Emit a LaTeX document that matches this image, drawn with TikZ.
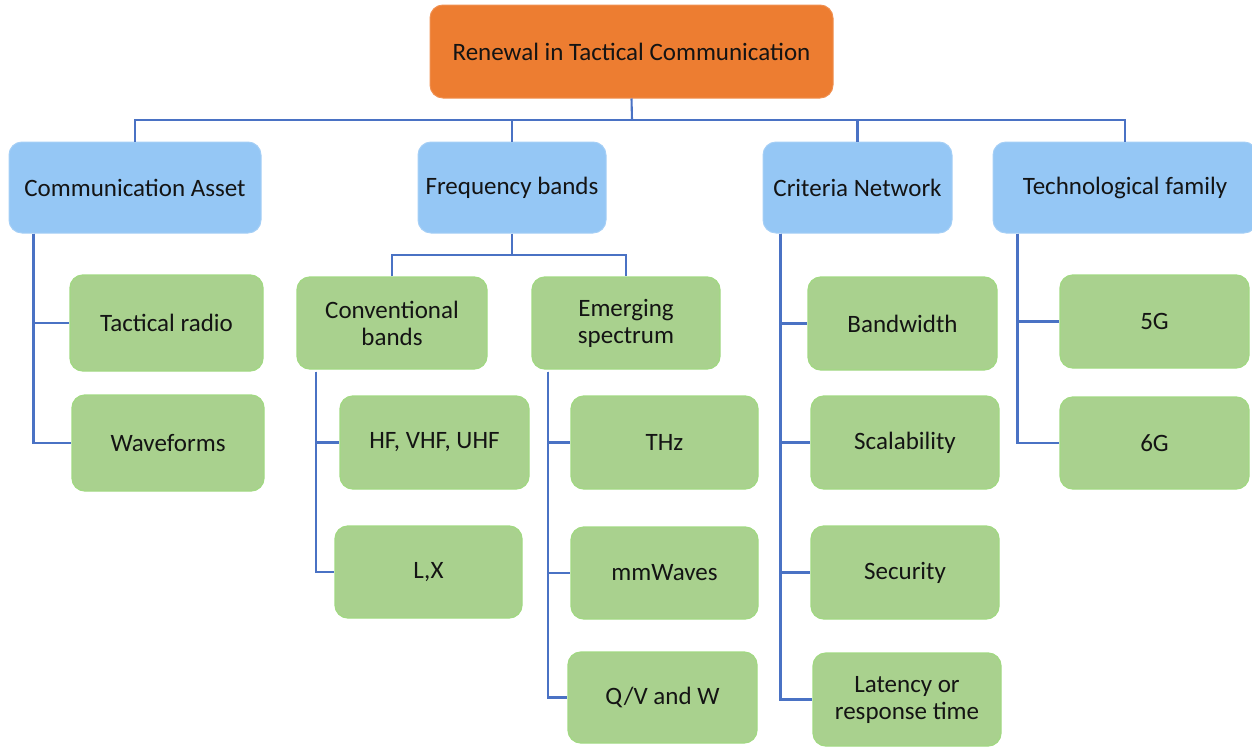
\documentclass[tikz,border=0pt]{standalone}
\usepackage{fontspec}
\setmainfont{Carlito}
\definecolor{rootc}{HTML}{ED7D31}
\definecolor{bluec}{HTML}{95C7F5}
\definecolor{greenc}{HTML}{A9D18E}
\definecolor{greenb}{HTML}{A2D883}
\definecolor{linec}{HTML}{4A72C4}
\definecolor{txt}{HTML}{141414}
\tikzset{
  box/.style={rounded corners=13pt, inner sep=0pt, align=center, text=txt,
    font=\fontsize{25}{27}\selectfont},
  rootbox/.style={box, fill=rootc, draw=rootc!85!white, line width=1pt},
  catbox/.style={box, fill=bluec, draw=bluec!85!white, line width=1pt},
  leafbox/.style={box, fill=greenc, draw=greenb, line width=1.3pt},
  conn/.style={draw=linec, line width=2.1pt},
}
\newcommand{\bx}[6]{% style, name, x1, y1, x2, y2, then text
  \node[#1, minimum width={#5-#3}, minimum height={#6-#4}] (#2) at ({(#3+#5)/2},{(#4+#6)/2})}
\begin{document}
\begin{tikzpicture}[x=1pt,y=-1pt]
\useasboundingbox (0,0) rectangle (1252,747);
\begin{scope}
\clip (0,0) rectangle (1252,747);
% root
\bx{rootbox}{root}{430}{5}{833}{98} {Renewal in Tactical Communication};
% categories
\bx{catbox}{ca}{9}{142}{261}{233} {Communication Asset};
\bx{catbox}{fb}{418}{142}{606}{233} {Frequency bands};
\bx{catbox}{cn}{763}{142}{952}{233} {Criteria Network};
\bx{catbox}{tf}{993}{142}{1257}{233} {Technological family};
% communication asset children
\bx{leafbox}{tr}{70}{275}{263}{371} {Tactical radio};
\bx{leafbox}{wf}{72}{395}{264}{491} {Waveforms};
% frequency bands children
\bx{leafbox}{cb}{297}{277}{487}{369} {Conventional\\bands};
\bx{leafbox}{es}{532}{277}{720}{369} {Emerging\\spectrum};
\bx{leafbox}{hf}{340}{396}{529}{489} {HF, VHF, UHF};
\bx{leafbox}{lx}{335}{526}{522}{618} {L,X};
\bx{leafbox}{thz}{571}{396}{758}{489} {THz};
\bx{leafbox}{mm}{571}{527}{758}{619} {mmWaves};
\bx{leafbox}{qv}{568}{652}{757}{743} {Q/V and W};
% criteria network children
\bx{leafbox}{bw}{808}{277}{997}{370} {Bandwidth};
\bx{leafbox}{sc}{811}{396}{999}{489} {Scalability};
\bx{leafbox}{se}{811}{526}{999}{619} {Security};
\bx{leafbox}{la}{813}{653}{1001}{746} {Latency or\\response time};
% technological family children
\bx{leafbox}{g5}{1060}{275}{1249}{368} {5G};
\bx{leafbox}{g6}{1060}{397}{1249}{489} {6G};

% connectors level 0 -> 1
\coordinate (bus) at (632,120);
\draw[conn] (root.south) -- (bus);
\draw[conn] (ca.north) |- (bus) -| (tf.north);
\draw[conn] (fb.north) -- (fb.north |- bus);
\draw[conn] (cn.north) -- (cn.north |- bus);
% communication asset
\draw[conn] ([xshift=25pt]ca.south west) |- (tr.west);
\draw[conn] ([xshift=25pt]ca.south west) |- (wf.west);
% frequency bands
\coordinate (fbus) at (512,255);
\draw[conn] (fb.south) -- (fbus);
\draw[conn] (cb.north) |- (fbus) -| (es.north);
\draw[conn] ([xshift=20pt,yshift=-2pt]cb.south west) |- (hf.west);
\draw[conn] ([xshift=20pt,yshift=-2pt]cb.south west) |- (lx.west);
\draw[conn] ([xshift=17pt,yshift=-2pt]es.south west) |- (thz.west);
\draw[conn] ([xshift=17pt,yshift=-2pt]es.south west) |- (mm.west);
\draw[conn] ([xshift=17pt,yshift=-2pt]es.south west) |- (qv.west);
% criteria network
\draw[conn] ([xshift=18pt]cn.south west) |- (bw.west);
\draw[conn] ([xshift=18pt]cn.south west) |- (sc.west);
\draw[conn] ([xshift=18pt]cn.south west) |- (se.west);
\draw[conn] ([xshift=18pt]cn.south west) |- (la.west);
% technological family
\draw[conn] ([xshift=25pt]tf.south west) |- (g5.west);
\draw[conn] ([xshift=25pt]tf.south west) |- (g6.west);
\end{scope}
\end{tikzpicture}
\end{document}
